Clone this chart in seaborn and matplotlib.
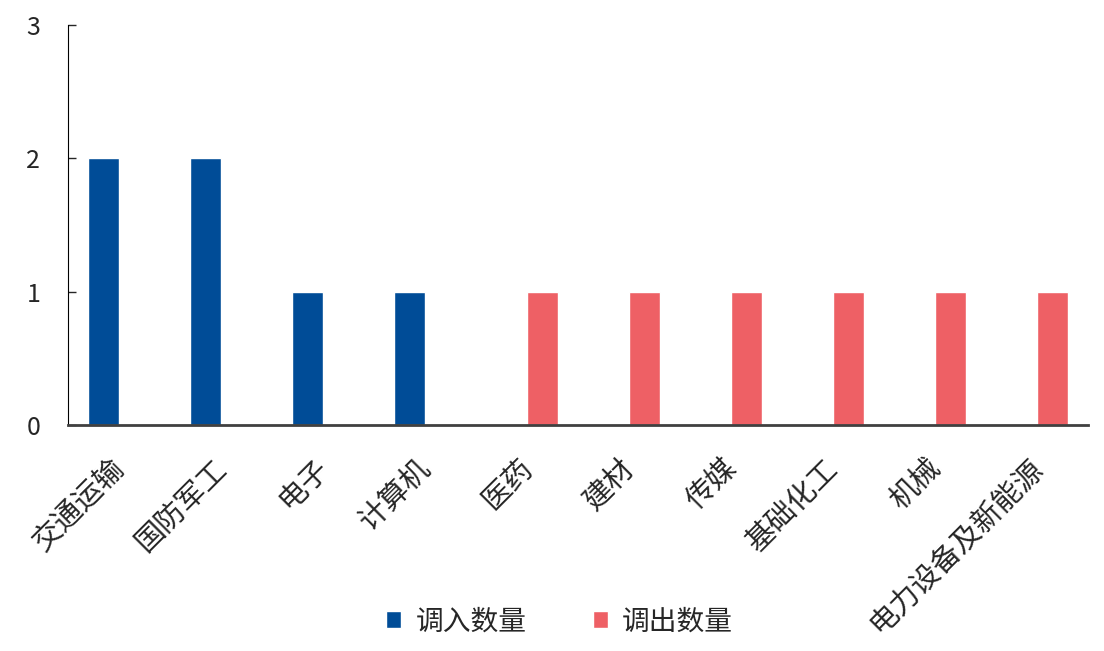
import matplotlib
matplotlib.use("Agg")
import matplotlib.pyplot as plt
import matplotlib.transforms as mtransforms
import numpy as np
import pandas as pd
import seaborn as sb

categories = ["交通运输", "国防军工", "电子", "计算机", "医药", "建材", "传媒", "基础化工", "机械", "电力设备及新能源"]
inflow = [2, 2, 1, 1, 0, 0, 0, 0, 0, 0]
outflow = [0, 0, 0, 0, 1, 1, 1, 1, 1, 1]
series_names = ["调入数量", "调出数量"]
colors = ["#004C97", "#EE6065"]

df = pd.DataFrame({
    "行业": categories * 2,
    "类型": [series_names[0]] * len(categories) + [series_names[1]] * len(categories),
    "数量": inflow + outflow,
})

sb.set_style("white")
plt.rcParams["font.family"] = ["Noto Sans CJK SC", "DejaVu Sans"]

fig = plt.figure(figsize=(11.04, 6.51), dpi=100)
ax = fig.add_axes([0.0616, 0.347, 0.924, 0.615])
sb.barplot(data=df, x="行业", y="数量", hue="类型", palette=colors,
           dodge=True, width=0.6, saturation=1, ax=ax)

ax.set_ylim(0, 3)
ax.set_yticks([0, 1, 2, 3])
ax.set_xlim(-0.5, len(categories) - 0.5)
ax.set_xlabel("")
ax.set_ylabel("")
for s in ["top", "right"]:
    ax.spines[s].set_visible(False)
ax.spines["left"].set_color("black")
ax.spines["bottom"].set_color("#404040")
ax.spines["bottom"].set_linewidth(2)
ax.tick_params(axis="y", direction="in", length=6, width=1, labelsize=18, pad=20, left=True)
ax.tick_params(axis="x", length=0, labelsize=21, pad=14)
plt.setp(ax.get_xticklabels(), rotation=45, ha="right", rotation_mode="anchor")
# nudge the slanted labels down/left, like the original
shift = mtransforms.ScaledTranslation(-0.09, -0.09, fig.dpi_scale_trans)
for lab in ax.get_xticklabels():
    lab.set_transform(lab.get_transform() + shift)

ax.legend(loc="center", bbox_to_anchor=(0.482, -0.49), ncol=2, frameon=False,
          fontsize=20, handlelength=0.55, handleheight=0.55, columnspacing=2.4, handletextpad=0.5)

fig.savefig("out.png", dpi=100)
